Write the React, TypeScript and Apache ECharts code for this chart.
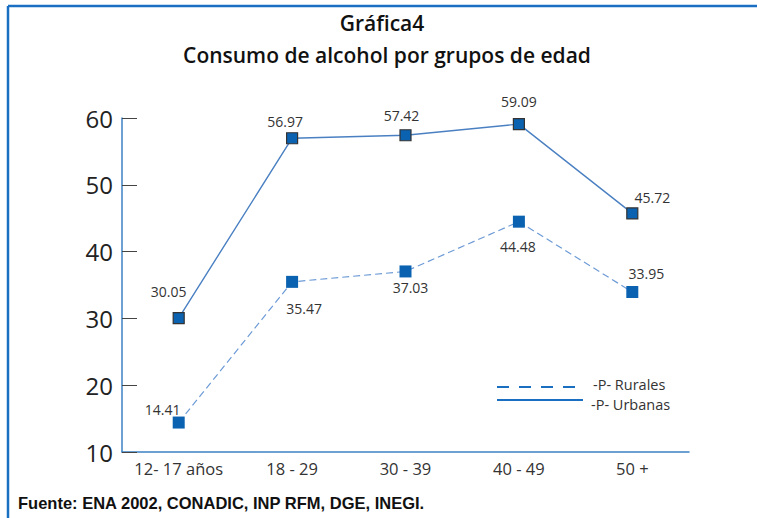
import React, { useEffect, useRef } from "react";
import * as echarts from "echarts";

const categories = ["12- 17 años", "18 - 29", "30 - 39", "40 - 49", "50 +"];
const urbanas = [30.05, 56.97, 57.42, 59.09, 45.72];
const rurales = [14.41, 35.47, 37.03, 44.48, 33.95];
const urbanasOffsets: number[][] = [[-10, -27], [-7, -17], [-4, -20], [0, -23], [20, -16]];
const ruralesOffsets: number[][] = [[-16, -13], [12, 27], [5, 16], [-1, 25], [14, -19]];
const yTicks = { min: 10, max: 60, interval: 10 };

const FONT = "'Open Sans', 'Noto Sans', sans-serif";

export default function App() {
  const ref = useRef<HTMLDivElement>(null);
  useEffect(() => {
    if (!ref.current) return;
    const chart = echarts.init(ref.current, null, { renderer: "svg" });
    const labelStyle = { show: true, position: "inside", fontSize: 14, color: "#333", fontFamily: FONT };
    chart.setOption({
      animation: false,
      backgroundColor: "#fff",
      textStyle: { fontFamily: FONT },
      grid: { left: 122, top: 118, width: 567, height: 334, containLabel: false },
      xAxis: {
        type: "category",
        data: categories,
        boundaryGap: true,
        axisLine: { lineStyle: { color: "#3d80c4", width: 1.5 } },
        axisTick: { inside: true, length: 8, lineStyle: { color: "#333", width: 1 } },
        axisLabel: { interval: 0, hideOverlap: false, fontSize: 16.5, color: "#333", margin: 8, fontFamily: FONT },
        splitLine: { show: false },
      },
      yAxis: {
        type: "value",
        min: yTicks.min,
        max: yTicks.max,
        interval: yTicks.interval,
        axisLine: { show: true, lineStyle: { color: "#3d80c4", width: 1.5 } },
        axisTick: { show: true, inside: true, length: 15, lineStyle: { color: "#444", width: 1 } },
        axisLabel: { fontSize: 24, color: "#222", margin: 9, fontFamily: FONT },
        splitLine: { show: false },
      },
      series: [
        {
          name: "-P- Urbanas",
          type: "line",
          data: urbanas.map((v, i) => ({
            value: v,
            label: { ...labelStyle, offset: urbanasOffsets[i], formatter: v.toFixed(2) },
          })),
          symbol: "rect",
          symbolSize: 11,
          lineStyle: { color: "#4a80c2", width: 1.4 },
          itemStyle: { color: "#0b62b0", borderColor: "#333", borderWidth: 1.2 },
          z: 3,
        },
        {
          name: "-P- Rurales",
          type: "line",
          data: rurales.map((v, i) => ({
            value: v,
            label: { ...labelStyle, offset: ruralesOffsets[i], formatter: v.toFixed(2) },
          })),
          symbol: "rect",
          symbolSize: 12,
          lineStyle: { color: "#6d9bd6", width: 1.2, type: [7, 4] },
          itemStyle: { color: "#0b62b0", borderWidth: 0 },
          z: 2,
        },
      ],
      graphic: [
        { type: "line", shape: { x1: 8, y1: 6, x2: 757, y2: 6 }, style: { stroke: "#1b6fc2", lineWidth: 2.5 } },
        { type: "line", shape: { x1: 8, y1: 6, x2: 8, y2: 518 }, style: { stroke: "#1b6fc2", lineWidth: 2.5 } },
        {
          type: "text", x: 382, y: 23,
          style: { text: "Gráfica4", fontSize: 21, fontWeight: 600, fill: "#111", align: "center", verticalAlign: "middle", fontFamily: FONT },
        },
        {
          type: "text", x: 387, y: 55,
          style: { text: "Consumo de alcohol por grupos de edad", fontSize: 21, fontWeight: 600, fill: "#111", align: "center", verticalAlign: "middle", fontFamily: FONT },
        },
        { type: "line", shape: { x1: 497, y1: 387, x2: 578, y2: 387 }, style: { stroke: "#1a6fc0", lineWidth: 2, lineDash: [12, 10] } },
        { type: "line", shape: { x1: 497, y1: 400, x2: 583, y2: 400 }, style: { stroke: "#1a6fc0", lineWidth: 2 } },
        {
          type: "text", x: 593, y: 384,
          style: { text: "-P- Rurales", fontSize: 14.5, lineHeight: 16, fill: "#333", align: "left", verticalAlign: "middle", fontFamily: FONT },
        },
        {
          type: "text", x: 591, y: 404,
          style: { text: "-P- Urbanas", fontSize: 14.5, lineHeight: 16, fill: "#333", align: "left", verticalAlign: "middle", fontFamily: FONT },
        },
        {
          type: "text", x: 18, y: 503,
          style: { text: "Fuente: ENA 2002, CONADIC, INP RFM, DGE, INEGI.", fontSize: 16.5, fontWeight: "bold", fill: "#111", align: "left", verticalAlign: "middle", fontFamily: "'Liberation Sans', Arial, sans-serif" },
        },
      ],
    });
    return () => chart.dispose();
  }, []);
  return <div ref={ref} style={{ position: "absolute", left: 0, top: 0, width: 757, height: 518 }} />;
}
